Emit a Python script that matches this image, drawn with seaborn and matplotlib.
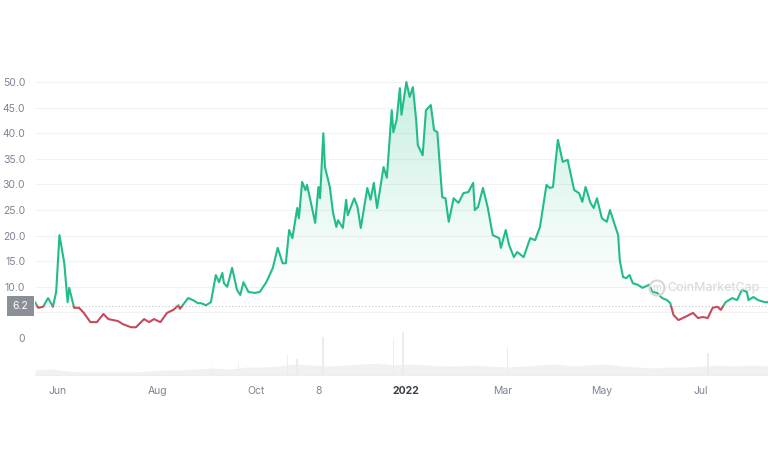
import numpy as np
import pandas as pd
import matplotlib
matplotlib.use("Agg")
import matplotlib.pyplot as plt
import matplotlib.dates as mdates
import matplotlib.transforms as mtransforms
from matplotlib.patches import Rectangle, Ellipse
import seaborn as sns

# price (days since 2021-05-18)
start_date = "2021-05-18"
days = [0, 2, 5, 8, 11, 13, 15, 18, 20, 21, 24, 27, 30, 34, 38, 42, 45, 51, 54, 59,
        62, 67, 70, 73, 77, 81, 85, 88, 89, 94, 97, 100, 102, 105, 108, 111, 113, 115, 116, 118,
        121, 124, 126, 128, 131, 135, 138, 142, 146, 149, 152, 154, 156, 158, 161, 162, 164, 166, 167, 169,
        172, 174, 175, 177, 178, 181, 183, 185, 186, 189, 191, 192, 196, 198, 200, 204, 206, 208, 210, 214,
        216, 219, 220, 222, 224, 225, 228, 230, 232, 234, 235, 238, 240, 243, 245, 247, 250, 252, 254, 257,
        260, 263, 266, 269, 270, 272, 275, 278, 281, 285, 286, 289, 291, 294, 296, 300, 304, 307, 310, 314,
        316, 318, 321, 324, 327, 331, 334, 336, 338, 341, 343, 345, 348, 351, 353, 355, 358, 359, 361, 363,
        365, 367, 370, 373, 377, 379, 382, 385, 388, 390, 392, 395, 399, 404, 407, 410, 413, 416, 419, 421,
        424, 428, 431, 434, 437, 438, 441, 444, 448, 450]
prices = [7.0, 5.9, 6.1, 7.8, 6.1, 9.0, 20.1, 14.6, 7.0, 9.8, 5.9, 5.9, 4.9, 3.1, 3.1, 4.7, 3.7, 3.3, 2.7, 2.1,
          2.1, 3.7, 3.1, 3.7, 3.1, 4.9, 5.5, 6.4, 5.7, 7.8, 7.4, 6.8, 6.8, 6.4, 7.0, 12.3, 10.9, 12.7, 10.7, 10.0,
          13.7, 9.4, 8.4, 10.9, 9.0, 8.8, 9.0, 10.9, 13.7, 17.6, 14.6, 14.6, 21.1, 19.5, 25.4, 23.4, 30.5, 28.9, 29.9, 27.0,
          22.5, 29.5, 27.3, 40.0, 33.4, 29.5, 24.4, 21.7, 23.0, 21.5, 27.0, 24.0, 27.3, 25.6, 21.5, 29.3, 27.0, 30.3, 25.4, 33.4,
          31.3, 44.5, 40.2, 42.6, 48.8, 43.6, 50.0, 47.1, 49.0, 42.6, 37.7, 35.7, 44.5, 45.5, 40.6, 40.2, 27.5, 27.3, 22.7, 27.3,
          26.4, 28.3, 28.5, 30.3, 25.0, 25.6, 29.3, 25.4, 20.1, 19.5, 17.6, 21.1, 18.2, 15.8, 16.8, 15.8, 19.5, 19.1, 21.7, 29.9,
          29.3, 29.5, 38.7, 34.4, 34.8, 28.9, 28.3, 26.6, 29.5, 26.4, 25.4, 27.3, 23.4, 22.7, 25.0, 23.0, 20.1, 15.2, 11.9, 11.7,
          12.3, 10.7, 10.4, 9.8, 10.4, 9.0, 8.8, 7.8, 7.4, 6.8, 4.5, 3.5, 4.1, 4.9, 3.9, 4.1, 3.9, 5.9, 6.1, 5.5,
          7.0, 7.8, 7.4, 9.4, 9.0, 7.4, 8.0, 7.4, 7.0, 7.0]
base_price = 6.2

# volume (arbitrary units): low background plus a few spikes
vol_days = list(range(0, 451, 10))
vol_vals = [5, 6, 4, 3, 3, 3, 3, 4, 5, 5, 6, 7, 6, 8, 8, 9, 11, 10, 9, 10, 11, 12, 10, 11, 10,
            9, 9, 10, 9, 8, 9, 10, 11, 9, 10, 11, 9, 8, 7, 8, 8, 9, 10, 9, 10, 9]
spike_days = [109, 125, 155, 161, 177, 220, 226, 290, 413]
spike_vals = [8, 12, 20, 16, 38, 36, 43, 28, 22]

tick_dates = ["2021-06-01", "2021-08-01", "2021-10-01", "2021-11-08", "2022-01-01",
              "2022-03-01", "2022-05-01", "2022-07-01"]
tick_labels = ["Jun", "Aug", "Oct", "8", "2022", "Mar", "May", "Jul"]
y_ticks = [0, 5, 10, 15, 20, 25, 30, 35, 40, 45, 50]

GREEN = "#22bd86"
RED = "#c54a5c"
GREY_TXT = "#7d8494"

sns.set_style("white")
plt.rcParams["font.family"] = ["Inter", "DejaVu Sans"]

t0 = pd.Timestamp(start_date)
df = pd.DataFrame({"date": t0 + pd.to_timedelta(days, unit="D"), "price": prices})
vol = pd.DataFrame({"date": t0 + pd.to_timedelta(vol_days, unit="D"), "volume": vol_vals})
spk = pd.DataFrame({"date": t0 + pd.to_timedelta(spike_days, unit="D"), "volume": spike_vals})

fig = plt.figure(figsize=(7.68, 4.63), dpi=100)
W, H = 768, 463
x0, x1 = t0, t0 + pd.Timedelta(days=450)

# volume strip at the bottom
vax = fig.add_axes([35 / W, (H - 375) / H, 733 / W, 45 / H])
vax.fill_between(vol["date"], vol["volume"], 0, color="#f1f1f1", lw=0)
vax.bar(spk["date"], spk["volume"], width=1.0, color="#ececec", lw=0)
vax.set_xlim(x0, x1)
vax.set_ylim(0, 45)
vax.set_yticks([])
for s in ["top", "left", "right"]:
    vax.spines[s].set_visible(False)
vax.spines["bottom"].set_color("#eeeeee")
vax.set_xticks(pd.to_datetime(tick_dates))
vax.set_xticklabels(tick_labels)
vax.tick_params(axis="x", length=2, color="#cccccc", labelsize=7.5, labelcolor=GREY_TXT, pad=6)
for lbl in vax.get_xticklabels():
    if lbl.get_text() == "2022":
        lbl.set_fontweight("bold")
        lbl.set_color("#3a3f4a")
vax.set_xlabel("")
vax.set_ylabel("")

# price chart
ax = fig.add_axes([35 / W, (H - 338) / H, 733 / W, (338 - 71.8) / H])
ax.patch.set_alpha(0)
ax.set_xlim(x0, x1)
ax.set_ylim(0, 52)
ax.set_yticks(y_ticks)
ax.set_yticklabels(["0"] + [f"{v:.1f}" for v in y_ticks[1:]])
ax.tick_params(axis="y", length=0, labelsize=7.5, labelcolor=GREY_TXT, pad=7)
ax.set_xticks([])
for s in ax.spines.values():
    s.set_visible(False)
ax.grid(axis="y", color="#f2f2f2", lw=0.8)

# gradient fill above the baseline
area = ax.fill_between(df["date"], np.maximum(df["price"], base_price), base_price,
                       color="none", lw=0)
grad = np.zeros((256, 1, 4))
c = matplotlib.colors.to_rgb(GREEN)
grad[:, 0, 0], grad[:, 0, 1], grad[:, 0, 2] = c
grad[:, 0, 3] = np.linspace(0.0, 0.32, 256) ** 1.2
img = ax.imshow(grad, origin="lower", aspect="auto",
                extent=[mdates.date2num(x0), mdates.date2num(x1), base_price, 50], zorder=1)
img.set_clip_path(area.get_paths()[0], ax.transData)
ax.set_xlim(x0, x1)
ax.set_ylim(0, 52)

# line: green above the baseline, red below
trans = mtransforms.blended_transform_factory(ax.transAxes, ax.transData)
sns.lineplot(data=df, x="date", y="price", ax=ax, color=GREEN, lw=1.5, zorder=3)
sns.lineplot(data=df, x="date", y="price", ax=ax, color=RED, lw=1.5, zorder=3)
up_clip = Rectangle((0, base_price), 1, 100, transform=trans)
dn_clip = Rectangle((0, -100), 1, 100 + base_price, transform=trans)
ax.lines[0].set_clip_path(up_clip)
ax.lines[1].set_clip_path(dn_clip)
ax.set_xlabel("")
ax.set_ylabel("")

ax.axhline(base_price, color="#c4c4c4", lw=0.8, ls=(0, (1, 2)), zorder=2)
ax.text(-0.0198, base_price, "6.2", transform=trans, ha="center", va="center",
        fontsize=7.5, color="white", zorder=10, clip_on=False,
        bbox=dict(boxstyle="square,pad=0.5", fc="#8b8f97", ec="none"))

# watermark
fig.add_artist(Ellipse((657 / W, 1 - 288 / H), 15 / W, 15 / H, transform=fig.transFigure,
                       fill=False, ec="#d6d6d6", lw=1.5))
fig.text(657 / W, 1 - 288 / H, "m", ha="center", va="center", fontsize=7, color="#d6d6d6")
fig.text(667 / W, 1 - 288 / H, "CoinMarketCap", ha="left", va="center",
         fontsize=9, color="#d6d6d6")

fig.savefig("out.png", dpi=100)
